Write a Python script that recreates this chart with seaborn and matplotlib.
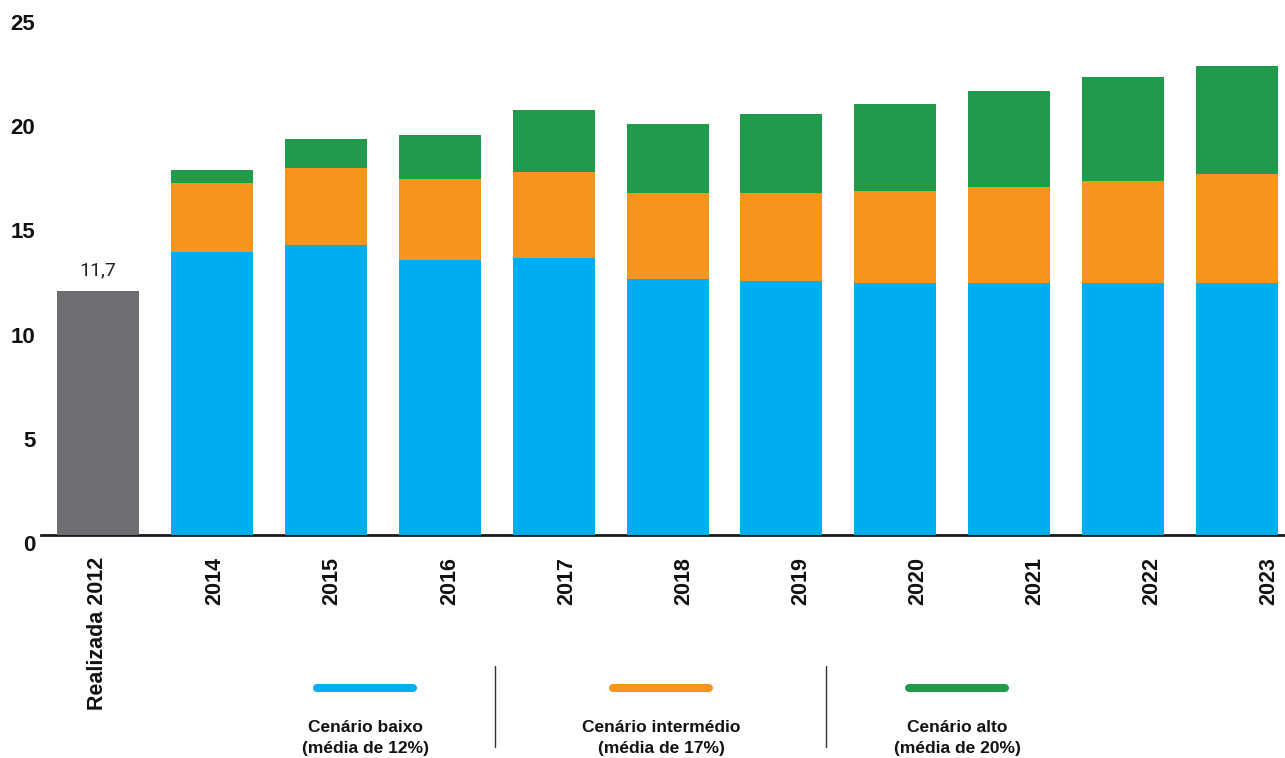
import matplotlib
matplotlib.use("Agg")
import matplotlib.pyplot as plt
from matplotlib.lines import Line2D
import pandas as pd
import seaborn as sns

# Dados
rotulo_realizado = "Realizada 2012"
valor_realizado = 11.7
anos = ["2014", "2015", "2016", "2017", "2018", "2019", "2020", "2021", "2022", "2023"]
cenario_baixo = [13.6, 13.9, 13.2, 13.3, 12.3, 12.2, 12.1, 12.1, 12.1, 12.1]
cenario_intermedio = [16.9, 17.6, 17.1, 17.4, 16.4, 16.4, 16.5, 16.7, 17.0, 17.3]
cenario_alto = [17.5, 19.0, 19.2, 20.4, 19.7, 20.2, 20.7, 21.3, 22.0, 22.5]
y_ticks = [0, 5, 10, 15, 20, 25]
legenda_titulos = ["Cenário baixo", "Cenário intermédio", "Cenário alto"]
legenda_medias = ["(média de 12%)", "(média de 17%)", "(média de 20%)"]

COR_REAL = "#6d6e71"
COR_BAIXO = "#00aeef"
COR_INTER = "#f7941e"
COR_ALTO = "#1f9b4b"

sns.set_theme(style="white")
plt.rcParams["font.family"] = ["Liberation Sans", "DejaVu Sans"]

W, H = 1285, 758
fig = plt.figure(figsize=(W / 100, H / 100), dpi=100)
ax = fig.add_axes([41 / W, (H - 535) / H, (W - 41) / W, (535 - 14) / H])

ordem = [rotulo_realizado] + anos
df_real = pd.DataFrame({"ano": [rotulo_realizado], "valor": [valor_realizado]})
df_alto = pd.DataFrame({"ano": anos, "valor": cenario_alto})
df_inter = pd.DataFrame({"ano": anos, "valor": cenario_intermedio})
df_baixo = pd.DataFrame({"ano": anos, "valor": cenario_baixo})

largura = 0.72
for df, cor in [(df_real, COR_REAL), (df_alto, COR_ALTO),
                (df_inter, COR_INTER), (df_baixo, COR_BAIXO)]:
    sns.barplot(data=df, x="ano", y="valor", order=ordem, color=cor,
                saturation=1, width=largura, errorbar=None, ax=ax,
                linewidth=0, zorder=2)

ax.annotate(f"{valor_realizado:.1f}".replace(".", ","), xy=(0, valor_realizado),
            xytext=(0, 12), textcoords="offset pixels", ha="center", va="bottom",
            fontsize=14, family=["Roboto", "DejaVu Sans"], color="#222222")

ax.set_xlabel("")
ax.set_ylabel("")
ax.set_ylim(0, 25)
ax.set_yticks(y_ticks)
ax.set_yticklabels([str(v) for v in y_ticks], fontsize=16, fontweight="bold",
                   color="#111111", va="top")
ax.tick_params(axis="y", length=0, pad=4)

pos = [i * 1.028 for i in range(len(ordem))]
ax.set_xticks(pos)
ax.set_xticklabels(ordem, rotation=90, fontsize=15.5, fontweight="bold",
                   va="top", ha="center", color="#111111")
ax.tick_params(axis="x", length=0, pad=16)
ax.set_xlim(-0.5, 10.42)

for s in ["top", "right", "left"]:
    ax.spines[s].set_visible(False)
ax.spines["bottom"].set_color("#1a1a1a")
ax.spines["bottom"].set_linewidth(2)
ax.spines["bottom"].set_zorder(1)

# Legenda
centros = [365, 661, 957]
cores = [COR_BAIXO, COR_INTER, COR_ALTO]
for cx, cor, t1, t2 in zip(centros, cores, legenda_titulos, legenda_medias):
    fig.add_artist(Line2D([(cx - 48) / W, (cx + 48) / W], [1 - 688 / H, 1 - 688 / H],
                          color=cor, lw=5.8, solid_capstyle="round"))
    fig.text(cx / W, 1 - 728 / H, t1, ha="center", va="center",
             fontsize=12.5, fontweight="bold", color="#111111")
    fig.text(cx / W, 1 - 749 / H, t2, ha="center", va="center",
             fontsize=12.5, fontweight="bold", color="#111111")

for dx in [495, 826]:
    fig.add_artist(Line2D([dx / W, dx / W], [1 - 666 / H, 1 - 747 / H],
                          color="#333333", lw=1))

fig.savefig("out.png", dpi=100)
